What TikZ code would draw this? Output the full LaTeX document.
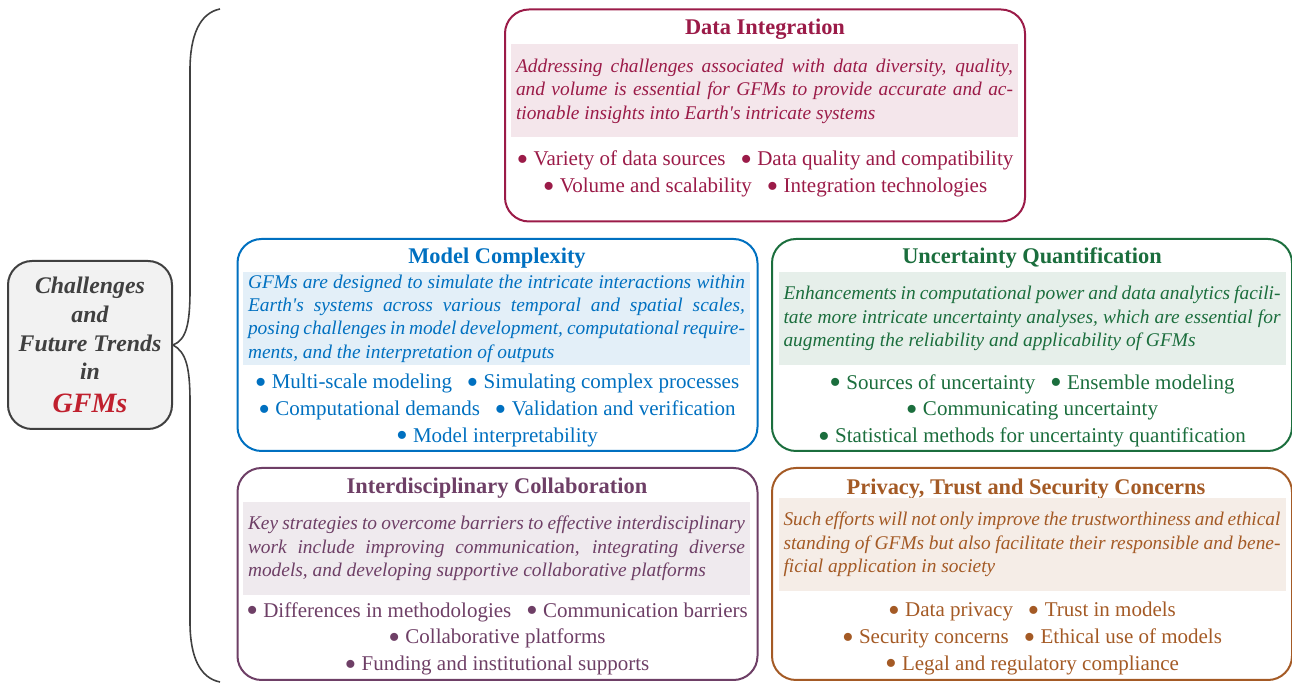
\documentclass[tikz,border=0pt]{standalone}
\usepackage{fontspec}
\usepackage{graphicx}
\setmainfont{Liberation Serif}[Ligatures=TeXOff]
\usetikzlibrary{positioning}
\definecolor{dicol}{RGB}{155,27,72}
\definecolor{mccol}{RGB}{0,112,192}
\definecolor{uqcol}{RGB}{27,110,61}
\definecolor{iccol}{RGB}{110,63,102}
\definecolor{ptcol}{RGB}{164,90,37}
\definecolor{gfmgray}{RGB}{64,64,64}
\definecolor{gfmred}{RGB}{192,32,46}
\tikzset{
    catbox/.style={draw=#1, line width=1pt, rounded corners=12pt, inner sep=0pt, minimum width=260pt, minimum height=106pt},
    head/.style={text=#1, font=\fontsize{11.2}{13}\selectfont\bfseries},
    panel/.style={fill=#1!11, text=#1, text width=248.5pt, inner xsep=2.5pt, inner ysep=0pt, minimum height=46.5pt, align=justify, font=\fontsize{9.7}{11.7}\selectfont\itshape},
    items/.style={text=#1, align=center, font=\fontsize{10.5}{13.3}\selectfont},
}
\newcommand*{\itm}[1]{\smash{\raisebox{-2.4pt}{\scalebox{1.6}{\textbullet}}}~#1}
\newcommand*{\gap}{\hspace{.7em}}

\begin{document}
\begin{tikzpicture}[x=.5pt, y=-.5pt]
    \useasboundingbox (0, 0) rectangle (1292, 683);
    \node[draw=gfmgray, line width=1pt, fill=gray!10, rounded corners=12pt, minimum width=82pt, minimum height=84pt, align=center, text=gfmgray, font=\fontsize{11.9}{14.3}\selectfont\bfseries\itshape](gfm) at (90, 345){Challenges\\and\\Future Trends\\in\\[2pt]{\color{gfmred}\fontsize{14}{17}\selectfont GFMs}};
    \coordinate (top) at (220, 9);
    \coordinate (bot) at (220, 682);
    \draw[gfmgray, line width=.8pt](top) .. controls (200, 13) and (190, 35) .. (190, 70) -- (190, 290) .. controls (190, 325) and (186, 340) .. (gfm.east) .. controls (186, 352) and (190, 367) .. (190, 402) -- (190, 622) .. controls (190, 657) and (200, 678) .. (bot);
    % data integration
    \node[catbox=dicol](di) at (765, 115.5){};
    \node[head=dicol](dihead) at (765, 29){Data Integration};
    \node[panel=dicol](dipanel) at (764.5, 91){Addressing challenges associated with data diversity, quality,\linebreak and volume is essential for GFMs to provide accurate and ac-\linebreak tionable insights into Earth's intricate systems};
    \node[items=dicol](diitems) at (765, 174){\itm{Variety of data sources}\gap\itm{Data quality and compatibility}\\\itm{Volume and scalability}\gap\itm{Integration technologies}};
    % model complexity
    \node[catbox=mccol](mc) at (497.5, 345){};
    \node[head=mccol](mchead) at (497, 258){Model Complexity};
    \node[panel=mccol](mcpanel) at (496.5, 318.5){GFMs are designed to simulate the intricate interactions within\linebreak Earth's systems across various temporal and spatial scales,\linebreak posing challenges in model development, computational require-\linebreak ments, and the interpretation of outputs};
    \node[items=mccol](mcitems) at (497, 410.5){\itm{Multi-scale modeling}\gap\itm{Simulating complex processes}\\\itm{Computational demands}\gap\itm{Validation and verification}\\\itm{Model interpretability}};
    % uncertainty quantification
    \node[catbox=uqcol](uq) at (1032, 345){};
    \node[head=uqcol](uqhead) at (1032, 258){Uncertainty Quantification};
    \node[panel=uqcol](uqpanel) at (1032, 318.5){Enhancements in computational power and data analytics facili-\linebreak tate more intricate uncertainty analyses, which are essential for\linebreak augmenting the reliability and applicability of GFMs};
    \node[items=uqcol](uqitems) at (1032, 410.5){\itm{Sources of uncertainty}\gap\itm{Ensemble modeling}\\\itm{Communicating uncertainty}\\\itm{Statistical methods for uncertainty quantification}};
    % interdisciplinary collaboration
    \node[catbox=iccol](ic) at (497.5, 574){};
    \node[head=iccol](ichead) at (497, 488){Interdisciplinary Collaboration};
    \node[panel=iccol](icpanel) at (496.5, 548.5){Key strategies to overcome barriers to effective interdisciplinary\linebreak work include improving communication, integrating diverse\linebreak models, and developing supportive collaborative platforms};
    \node[items=iccol](icitems) at (497, 638.5){\itm{Differences in methodologies}\gap\itm{Communication barriers}\\\itm{Collaborative platforms}\\\itm{Funding and institutional supports}};
    % privacy, trust and security
    \node[catbox=ptcol](pt) at (1032, 574){};
    \node[head=ptcol](pthead) at (1026, 489){Privacy, Trust and Security Concerns};
    \node[panel=ptcol](ptpanel) at (1032, 544.5){Such efforts will not only improve the trustworthiness and ethical\linebreak standing of GFMs but also facilitate their responsible and bene-\linebreak ficial application in society};
    \node[items=ptcol](ptitems) at (1032, 638.5){\itm{Data privacy}\gap\itm{Trust in models}\\\itm{Security concerns}\gap\itm{Ethical use of models}\\\itm{Legal and regulatory compliance}};
\end{tikzpicture}
\end{document}
